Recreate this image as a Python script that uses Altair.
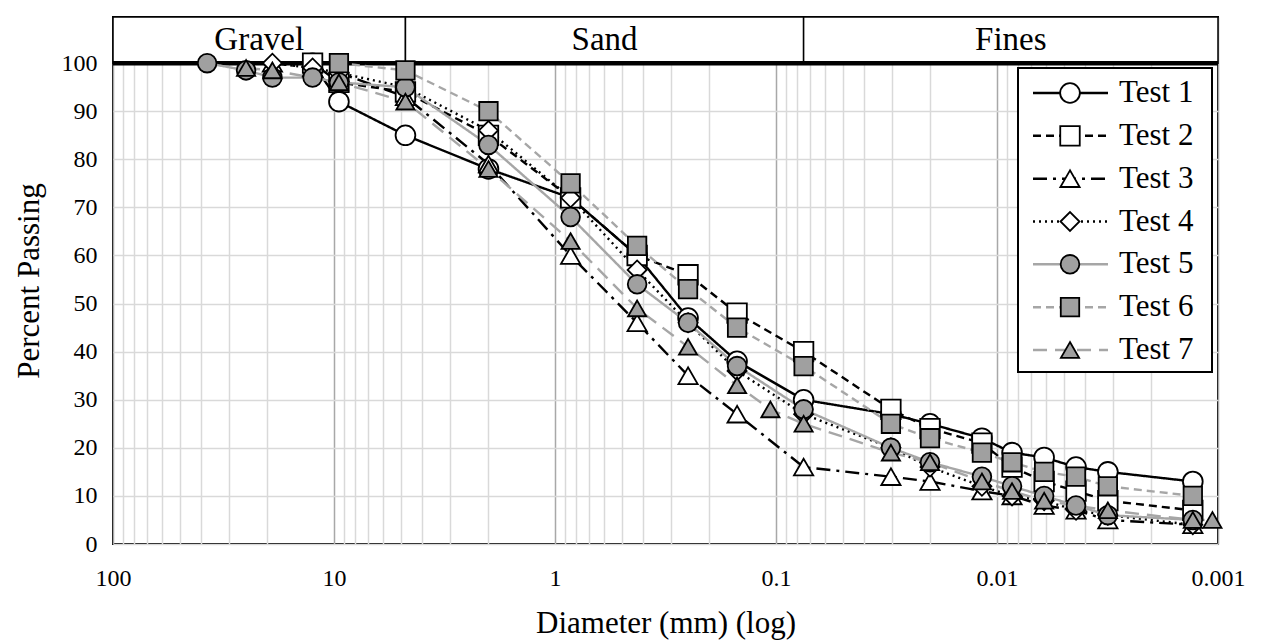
import altair as alt
import pandas as pd

# ---- grain-size data (diameter in mm, percent passing) ----
tests = ["Test 1", "Test 2", "Test 3", "Test 4", "Test 5", "Test 6", "Test 7"]

test1_d = [12.5, 9.5, 4.75, 2.0, 0.85, 0.425, 0.25, 0.15, 0.075, 0.0302, 0.0201, 0.0117, 0.00855, 0.00612, 0.00439, 0.00315, 0.0013]
test1_p = [100, 92, 85, 78, 72, 60, 47, 38, 30, 27, 25, 22, 19, 18, 16, 15, 13]

test2_d = [12.5, 9.5, 4.75, 2.0, 0.85, 0.425, 0.25, 0.15, 0.075, 0.0302, 0.0201, 0.0117, 0.00855, 0.00612, 0.00439, 0.00315, 0.0013]
test2_p = [100, 96, 94, 85, 72, 60, 56, 48, 40, 28, 24, 21, 16, 13, 11, 9, 7]

test3_d = [19, 12.5, 9.5, 4.75, 2.0, 0.85, 0.425, 0.25, 0.15, 0.075, 0.0302, 0.0201, 0.0117, 0.00855, 0.00612, 0.00439, 0.00315, 0.0013]
test3_p = [100, 99, 98, 93, 79, 60, 46, 35, 27, 16, 14, 13, 11, 10, 8, 7, 5, 4]

test4_d = [19, 12.5, 9.5, 4.75, 2.0, 0.85, 0.425, 0.25, 0.15, 0.075, 0.0302, 0.0201, 0.0117, 0.00855, 0.00612, 0.00439, 0.00315, 0.0013]
test4_p = [100, 99, 98, 95, 86, 72, 57, 46, 36, 27, 20, 16, 12, 10, 9, 7, 6, 4]

test5_d = [37.5, 25, 19, 12.5, 9.5, 4.75, 2.0, 0.85, 0.425, 0.25, 0.15, 0.075, 0.0302, 0.0201, 0.0117, 0.00855, 0.00612, 0.00439, 0.00315, 0.0013]
test5_p = [100, 98.5, 97, 97, 96, 95, 83, 68, 54, 46, 37, 28, 20, 17, 14, 12, 10, 8, 6, 5]

test6_d = [9.5, 4.75, 2.0, 0.85, 0.425, 0.25, 0.15, 0.075, 0.0302, 0.0201, 0.0117, 0.00855, 0.00612, 0.00439, 0.00315, 0.0013]
test6_p = [100, 98.5, 90, 75, 62, 53, 45, 37, 25, 22, 19, 17, 15, 14, 12, 10]

test7_d = [25, 19, 9.5, 4.75, 2.0, 0.85, 0.425, 0.25, 0.15, 0.106, 0.075, 0.0302, 0.0201, 0.0117, 0.00855, 0.00612, 0.00315, 0.0013, 0.00106]
test7_p = [99, 98.5, 96, 92, 78, 63, 49, 41, 33, 28, 25, 19, 17, 13, 11, 9, 7, 5, 5]

diameters = [test1_d, test2_d, test3_d, test4_d, test5_d, test6_d, test7_d]
passing = [test1_p, test2_p, test3_p, test4_p, test5_p, test6_p, test7_p]

# soil classification bands along the top
zones = ["Gravel", "Sand", "Fines"]
zone_edges = [100, 4.75, 0.075, 0.001]

rows = []
for name, ds, ps in zip(tests, diameters, passing):
    for d, p in zip(ds, ps):
        rows.append({"test": name, "diameter": d, "passing": p})
df = pd.DataFrame(rows)

Y_TOP = 109.6  # upper edge of the classification band, in percent units

zdf = pd.DataFrame({"zone": zones, "d1": zone_edges[:-1], "d2": zone_edges[1:]})
zdf["mid"] = (zdf["d1"] * zdf["d2"]) ** 0.5
zdf["lo"] = 100
zdf["hi"] = Y_TOP

legend_df = pd.DataFrame({"test": tests})

# ---- styling ----
FONT = "Liberation Serif"
GRAY_LINE = "#a6a6a6"
GRAY_FILL = "#a0a0a0"

line_colors = ["black", "black", "black", "black", GRAY_LINE, GRAY_LINE, GRAY_LINE]
dashes = [[1, 0], [8, 5], [14, 6, 3, 6], [2, 4], [1, 0], [8, 5], [14, 8]]
shapes = ["circle", "square", "triangle-up", "diamond", "circle", "square", "triangle-up"]
fills = ["white", "white", "white", "white", GRAY_FILL, GRAY_FILL, GRAY_FILL]
sizes = [390, 330, 400, 230, 390, 330, 400]

color_enc = alt.Color("test:N", scale=alt.Scale(domain=tests, range=line_colors), legend=None)
dash_enc = alt.StrokeDash("test:N", scale=alt.Scale(domain=tests, range=dashes), legend=None)
shape_enc = alt.Shape("test:N", scale=alt.Scale(domain=tests, range=shapes), legend=None)
fill_enc = alt.Fill("test:N", scale=alt.Scale(domain=tests, range=fills), legend=None)
size_enc = alt.Size("test:N", scale=alt.Scale(domain=tests, range=sizes), legend=None)

grid_ticks = [round(m * 10.0 ** e, 6) for e in range(-3, 2) for m in range(1, 10)] + [100]
decade = "abs(log(datum.value)/LN10 - round(log(datum.value)/LN10)) < 0.000001"

x_scale = alt.Scale(type="log", domain=[0.001, 100], reverse=True, nice=False)
y_scale = alt.Scale(domain=[0, Y_TOP], nice=False, zero=False)

x_axis = alt.Axis(
    values=grid_ticks, format="~g",
    labelExpr=f"{decade} ? datum.label : ''",
    grid=True, gridWidth=1.5,
    gridColor={"condition": {"test": decade, "value": "#a8a8a8"}, "value": "#d9d9d9"},
    ticks=False, domain=False, labelOverlap=False, labelFlush=False, labelBound=False,
    labelFont=FONT, labelFontSize=24, labelColor="black", labelPadding=22,
    title="Diameter (mm) (log)", titleFont=FONT, titleFontSize=31,
    titleFontWeight="normal", titleColor="black", titlePadding=18,
)
y_axis = alt.Axis(
    values=list(range(0, 101, 10)), grid=True, gridWidth=1.5, gridColor="#d9d9d9",
    ticks=False, domain=False,
    labelFont=FONT, labelFontSize=24, labelColor="black", labelPadding=16,
    title="Percent Passing", titleFont=FONT, titleFontSize=31,
    titleFontWeight="normal", titleColor="black", titlePadding=16,
)

X = alt.X("diameter:Q", scale=x_scale, axis=x_axis)
Y = alt.Y("passing:Q", scale=y_scale, axis=y_axis)

# header band with the three soil classes
header = alt.Chart(zdf).mark_rect(fill="white", stroke="black", strokeWidth=1.5).encode(
    x=alt.X("d1:Q", scale=x_scale, axis=x_axis),
    x2="d2:Q",
    y=alt.Y("lo:Q", scale=y_scale, axis=y_axis),
    y2="hi:Q",
)
header_text = alt.Chart(zdf).mark_text(font=FONT, fontSize=33, color="black", baseline="middle").encode(
    x=alt.X("mid:Q", scale=x_scale),
    y=alt.datum(104.9),
    text="zone:N",
)
top_rule = alt.Chart(zdf).mark_rule(color="black", strokeWidth=4.5).encode(
    x=alt.X("max(d1):Q", scale=x_scale),
    x2="min(d2):Q",
    y=alt.datum(100),
)

lines = alt.Chart(df).mark_line(strokeWidth=2.4).encode(
    x=X, y=Y, color=color_enc, strokeDash=dash_enc, detail="test:N"
)
points = alt.Chart(df).mark_point(filled=True, stroke="black", strokeWidth=1.8, opacity=1, fillOpacity=1).encode(
    x=X, y=Y, shape=shape_enc, fill=fill_enc, size=size_enc
)

main = alt.layer(header, header_text, top_rule, lines, points)

# legend drawn inside the plot area
leg_y = alt.Y("test:N", scale=alt.Scale(type="point", domain=tests, range=[76, 333], padding=0), axis=None)
leg_box = alt.Chart(legend_df).mark_rect(fill="white", stroke="black", strokeWidth=2).encode(
    x=alt.value(905), x2=alt.value(1099), y=alt.value(51), y2=alt.value(355)
)
leg_lines = alt.Chart(legend_df).mark_rule(strokeWidth=2.5).encode(
    x=alt.value(920), x2=alt.value(995), y=leg_y, color=color_enc, strokeDash=dash_enc
)
leg_points = alt.Chart(legend_df).mark_point(filled=True, stroke="black", strokeWidth=1.8, opacity=1).encode(
    x=alt.value(957), y=leg_y, shape=shape_enc, fill=fill_enc, size=size_enc
)
leg_text = alt.Chart(legend_df).mark_text(font=FONT, fontSize=31, align="left", baseline="middle", color="black").encode(
    x=alt.value(1006), y=leg_y, text="test:N"
)
legend = alt.layer(leg_box, leg_lines, leg_points, leg_text)

chart = (
    alt.layer(main, legend)
    .resolve_scale(y="independent")
    .properties(
        width=1105, height=527, autosize="none",
        padding={"left": 113, "top": 17, "right": 43, "bottom": 100},
        background="white",
    )
    .configure_view(stroke="black", strokeWidth=2)
)

chart.save("out.html", embed_options={"renderer": "svg", "actions": False})
